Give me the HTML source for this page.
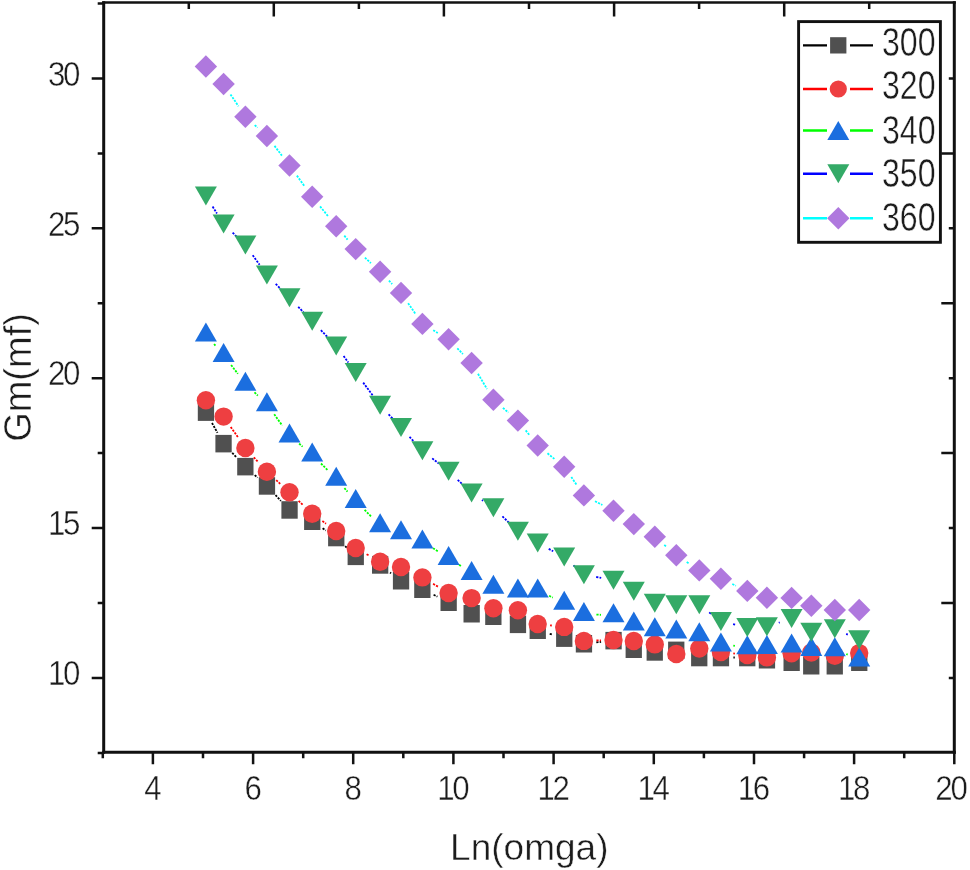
<!DOCTYPE html>
<html><head><meta charset="utf-8"><style>
html,body{margin:0;padding:0;background:#fff;}
svg{display:block;font-family:"Liberation Sans",sans-serif;filter:blur(0.45px);}
text{stroke:#fff;stroke-width:0.45px;}
</style></head><body>
<svg width="970" height="870" viewBox="0 0 970 870">
<rect width="970" height="870" fill="#fff"/>
<path d="M212 423L217.5 432.8M232.2 452.8L236.8 457.6M254.7 475.1L257.6 477.6M275.5 495.1L280.9 500.9M322.6 528.3L325.8 530.5M345.2 546.2L346.7 547.7M390.1 572.5L391 573.3M433.6 594.8L437.4 596.6M549.7 633.8L552.2 634.5M596.3 642.4L601.1 641.9M733.4 657.5L734.8 657.5" stroke="#000000" stroke-width="1.8" stroke-dasharray="2.2 1.2" fill="none"/><rect x="197.8" y="403.4" width="16.3" height="17.5" fill="#505050"/><rect x="215.4" y="434.9" width="16.3" height="17.5" fill="#505050"/><rect x="237.2" y="457.9" width="16.3" height="17.5" fill="#505050"/><rect x="258.8" y="477.2" width="16.3" height="17.5" fill="#505050"/><rect x="281.4" y="501.2" width="16.3" height="17.5" fill="#505050"/><rect x="304.1" y="512.5" width="16.3" height="17.5" fill="#505050"/><rect x="328.1" y="528.8" width="16.3" height="17.5" fill="#505050"/><rect x="347.6" y="547.6" width="16.3" height="17.5" fill="#505050"/><rect x="372" y="556.2" width="16.3" height="17.5" fill="#505050"/><rect x="392.9" y="572" width="16.3" height="17.5" fill="#505050"/><rect x="414.2" y="580.5" width="16.3" height="17.5" fill="#505050"/><rect x="440.5" y="593.5" width="16.3" height="17.5" fill="#505050"/><rect x="463.5" y="605" width="16.3" height="17.5" fill="#505050"/><rect x="485.2" y="607.5" width="16.3" height="17.5" fill="#505050"/><rect x="509.8" y="615.6" width="16.3" height="17.5" fill="#505050"/><rect x="529.6" y="621.5" width="16.3" height="17.5" fill="#505050"/><rect x="556.1" y="629.4" width="16.3" height="17.5" fill="#505050"/><rect x="575.8" y="635" width="16.3" height="17.5" fill="#505050"/><rect x="605.4" y="631.9" width="16.3" height="17.5" fill="#505050"/><rect x="625.6" y="640.5" width="16.3" height="17.5" fill="#505050"/><rect x="646.6" y="643.2" width="16.3" height="17.5" fill="#505050"/><rect x="668.1" y="641.6" width="16.3" height="17.5" fill="#505050"/><rect x="691.1" y="648.8" width="16.3" height="17.5" fill="#505050"/><rect x="712.8" y="648.8" width="16.3" height="17.5" fill="#505050"/><rect x="739.1" y="648.8" width="16.3" height="17.5" fill="#505050"/><rect x="758.8" y="651" width="16.3" height="17.5" fill="#505050"/><rect x="783.5" y="653.5" width="16.3" height="17.5" fill="#505050"/><rect x="803.1" y="657" width="16.3" height="17.5" fill="#505050"/><rect x="826.6" y="657" width="16.3" height="17.5" fill="#505050"/><rect x="851.1" y="653.5" width="16.3" height="17.5" fill="#505050"/><path d="M230.7 426.9L238.3 437.7M253.8 457.3L258.5 462.4M276.2 480.1L280.2 483.8M298.6 500.8L303.1 505.2M322.4 521.1L326 523.7M366.6 554.2L369.2 555.6M433.1 583.8L437.9 586.6M550.1 625.4L551.8 625.5M596.4 640.5L601 640.4M733.3 653.4L734.9 653.6" stroke="#FF0000" stroke-width="1.8" stroke-dasharray="2.2 1.2" fill="none"/><circle cx="205.9" cy="400.2" r="9.2" fill="#EE3F41"/><circle cx="223.6" cy="416.6" r="9.2" fill="#EE3F41"/><circle cx="245.4" cy="448" r="9.2" fill="#EE3F41"/><circle cx="266.9" cy="471.7" r="9.2" fill="#EE3F41"/><circle cx="289.5" cy="492.2" r="9.2" fill="#EE3F41"/><circle cx="312.2" cy="513.8" r="9.2" fill="#EE3F41"/><circle cx="336.2" cy="531" r="9.2" fill="#EE3F41"/><circle cx="355.7" cy="548" r="9.2" fill="#EE3F41"/><circle cx="380.1" cy="561.8" r="9.2" fill="#EE3F41"/><circle cx="401" cy="567" r="9.2" fill="#EE3F41"/><circle cx="422.4" cy="577.4" r="9.2" fill="#EE3F41"/><circle cx="448.6" cy="593" r="9.2" fill="#EE3F41"/><circle cx="471.6" cy="598.1" r="9.2" fill="#EE3F41"/><circle cx="493.4" cy="608.2" r="9.2" fill="#EE3F41"/><circle cx="517.9" cy="610.2" r="9.2" fill="#EE3F41"/><circle cx="537.7" cy="624" r="9.2" fill="#EE3F41"/><circle cx="564.2" cy="626.9" r="9.2" fill="#EE3F41"/><circle cx="583.9" cy="640.9" r="9.2" fill="#EE3F41"/><circle cx="613.5" cy="640" r="9.2" fill="#EE3F41"/><circle cx="633.8" cy="641" r="9.2" fill="#EE3F41"/><circle cx="654.8" cy="644.4" r="9.2" fill="#EE3F41"/><circle cx="676.3" cy="654" r="9.2" fill="#EE3F41"/><circle cx="699.3" cy="648.5" r="9.2" fill="#EE3F41"/><circle cx="720.9" cy="652" r="9.2" fill="#EE3F41"/><circle cx="747.3" cy="655" r="9.2" fill="#EE3F41"/><circle cx="766.9" cy="657.4" r="9.2" fill="#EE3F41"/><circle cx="791.6" cy="653.2" r="9.2" fill="#EE3F41"/><circle cx="811.3" cy="652.5" r="9.2" fill="#EE3F41"/><circle cx="834.8" cy="655.7" r="9.2" fill="#EE3F41"/><circle cx="859.2" cy="653.1" r="9.2" fill="#EE3F41"/><path d="M214.1 344L215.4 345.6M231.1 365L237.9 373.8M254.5 392.4L257.8 395.6M274.2 414.3L282.2 425.5M299.1 443.6L302.6 446.6M321 463.5L327.4 469.8M344.4 488.1L347.5 491.7M364.6 509.9L371.2 516.5M433 548.2L438 551.3M459.1 564.8L461.1 566.2M549.1 595.8L552.8 597.6M596.4 614.6L601 614.8M733.3 645.7L734.9 645.9M846.3 654L847.7 654.6" stroke="#00FF00" stroke-width="1.8" stroke-dasharray="2.2 1.2" fill="none"/><path d="M205.9 322.6L216.9 341.6L194.9 341.6Z" fill="#1B6EDF"/><path d="M223.6 343L234.6 362L212.6 362Z" fill="#1B6EDF"/><path d="M245.4 371.8L256.4 390.8L234.4 390.8Z" fill="#1B6EDF"/><path d="M266.9 392.2L277.9 411.2L255.9 411.2Z" fill="#1B6EDF"/><path d="M289.5 423.6L300.5 442.6L278.5 442.6Z" fill="#1B6EDF"/><path d="M312.2 442.6L323.2 461.6L301.2 461.6Z" fill="#1B6EDF"/><path d="M336.2 466.7L347.2 485.7L325.2 485.7Z" fill="#1B6EDF"/><path d="M355.7 489.1L366.7 508.1L344.7 508.1Z" fill="#1B6EDF"/><path d="M380.1 513.3L391.1 532.3L369.1 532.3Z" fill="#1B6EDF"/><path d="M401 520.2L412 539.2L390 539.2Z" fill="#1B6EDF"/><path d="M422.4 529.5L433.4 548.5L411.4 548.5Z" fill="#1B6EDF"/><path d="M448.6 546L459.6 565L437.6 565Z" fill="#1B6EDF"/><path d="M471.6 561L482.6 580L460.6 580Z" fill="#1B6EDF"/><path d="M493.4 574.8L504.4 593.8L482.4 593.8Z" fill="#1B6EDF"/><path d="M517.9 578.6L528.9 597.6L506.9 597.6Z" fill="#1B6EDF"/><path d="M537.7 578.6L548.7 597.6L526.7 597.6Z" fill="#1B6EDF"/><path d="M564.2 590.8L575.2 609.8L553.2 609.8Z" fill="#1B6EDF"/><path d="M583.9 602.1L594.9 621.1L572.9 621.1Z" fill="#1B6EDF"/><path d="M613.5 603.3L624.5 622.3L602.5 622.3Z" fill="#1B6EDF"/><path d="M633.8 611.5L644.8 630.5L622.8 630.5Z" fill="#1B6EDF"/><path d="M654.8 617.2L665.8 636.2L643.8 636.2Z" fill="#1B6EDF"/><path d="M676.3 619.6L687.3 638.6L665.3 638.6Z" fill="#1B6EDF"/><path d="M699.3 622.2L710.3 641.2L688.3 641.2Z" fill="#1B6EDF"/><path d="M720.9 632.4L731.9 651.4L709.9 651.4Z" fill="#1B6EDF"/><path d="M747.3 635.2L758.3 654.2L736.3 654.2Z" fill="#1B6EDF"/><path d="M766.9 635L777.9 654L755.9 654Z" fill="#1B6EDF"/><path d="M791.6 633.5L802.6 652.5L780.6 652.5Z" fill="#1B6EDF"/><path d="M811.3 637.1L822.3 656.1L800.3 656.1Z" fill="#1B6EDF"/><path d="M834.8 637.2L845.8 656.2L823.8 656.2Z" fill="#1B6EDF"/><path d="M859.2 647.4L870.2 666.4L848.2 666.4Z" fill="#1B6EDF"/><path d="M212.6 206.6L216.9 213.4M232.6 232.7L236.4 236.3M252.7 255.2L259.6 264.8M275.7 283.9L280.7 288.9M298.2 306.8L303.5 312.3M320.9 330.2L327.5 337M343.6 356L348.3 362.5M363.2 382.6L372.6 395.3M388.6 414.4L392.5 418.5M409.5 436.8L413.9 441.5M432.2 458.4L438.8 463.5M457.7 479.8L462.5 484.3M481.9 500L483.1 500.7M502.4 516.4L508.9 522.6M548.7 548.9L553.2 551.2M573.5 565.4L574.6 566.4M596.2 577L601.2 577.9M709.2 612.4L711 613.8M733.1 624.2L735.1 624.7M778.8 622.8L779.7 622.4M846.2 633.9L847.8 634.6" stroke="#0000FF" stroke-width="1.8" stroke-dasharray="2.2 1.2" fill="none"/><path d="M194.9 186.5L216.9 186.5L205.9 205.5Z" fill="#34AA67"/><path d="M212.6 214.5L234.6 214.5L223.6 233.5Z" fill="#34AA67"/><path d="M234.4 235.5L256.4 235.5L245.4 254.5Z" fill="#34AA67"/><path d="M255.9 265.5L277.9 265.5L266.9 284.5Z" fill="#34AA67"/><path d="M278.5 288.3L300.5 288.3L289.5 307.3Z" fill="#34AA67"/><path d="M301.2 311.8L323.2 311.8L312.2 330.8Z" fill="#34AA67"/><path d="M325.2 336.4L347.2 336.4L336.2 355.4Z" fill="#34AA67"/><path d="M344.7 363.1L366.7 363.1L355.7 382.1Z" fill="#34AA67"/><path d="M369.1 395.8L391.1 395.8L380.1 414.8Z" fill="#34AA67"/><path d="M390 418.1L412 418.1L401 437.1Z" fill="#34AA67"/><path d="M411.4 441.2L433.4 441.2L422.4 460.2Z" fill="#34AA67"/><path d="M437.6 461.7L459.6 461.7L448.6 480.7Z" fill="#34AA67"/><path d="M460.6 483.4L482.6 483.4L471.6 502.4Z" fill="#34AA67"/><path d="M482.4 498.3L504.4 498.3L493.4 517.3Z" fill="#34AA67"/><path d="M506.9 521.7L528.9 521.7L517.9 540.7Z" fill="#34AA67"/><path d="M526.7 533.5L548.7 533.5L537.7 552.5Z" fill="#34AA67"/><path d="M553.2 547.6L575.2 547.6L564.2 566.6Z" fill="#34AA67"/><path d="M572.9 565.2L594.9 565.2L583.9 584.2Z" fill="#34AA67"/><path d="M602.5 570.7L624.5 570.7L613.5 589.7Z" fill="#34AA67"/><path d="M622.8 581.7L644.8 581.7L633.8 600.7Z" fill="#34AA67"/><path d="M643.8 593.7L665.8 593.7L654.8 612.7Z" fill="#34AA67"/><path d="M665.3 595.3L687.3 595.3L676.3 614.3Z" fill="#34AA67"/><path d="M688.3 595.3L710.3 595.3L699.3 614.3Z" fill="#34AA67"/><path d="M709.9 611.9L731.9 611.9L720.9 630.9Z" fill="#34AA67"/><path d="M736.3 618L758.3 618L747.3 637Z" fill="#34AA67"/><path d="M755.9 617.2L777.9 617.2L766.9 636.2Z" fill="#34AA67"/><path d="M780.6 609L802.6 609L791.6 628Z" fill="#34AA67"/><path d="M800.3 622.7L822.3 622.7L811.3 641.7Z" fill="#34AA67"/><path d="M823.8 619.3L845.8 619.3L834.8 638.3Z" fill="#34AA67"/><path d="M848.2 630.2L870.2 630.2L859.2 649.2Z" fill="#34AA67"/><path d="M230.5 94.4L238.5 106.3M254.7 125.1L257.6 127.6M274.5 145.9L281.9 155.6M296.9 175.6L304.8 186.6M320.1 206.4L328.3 216.5M344.3 235.7L347.6 239.6M364.9 257.6L370.9 263.2M388.9 280.6L392.2 284M408.1 303.2L415.3 313.6M433.2 330.2L437.8 333M457.3 348.3L462.9 354M478 373.8L487 389M502.9 407.9L508.4 412.5M525.7 430.4L529.9 435.7M547.5 453.3L554.4 458.9M571.3 477L576.8 485.1M595 501.2L602.4 505M664.3 544.9L666.8 547.1M686.7 562.1L688.9 563.5M732.3 584L735.9 585.7" stroke="#00FFFF" stroke-width="1.8" stroke-dasharray="2.2 1.2" fill="none"/><path d="M205.9 55.3L217.1 66.5L205.9 77.7L194.7 66.5Z" fill="#AF78DE"/><path d="M223.6 72.8L234.8 84L223.6 95.2L212.4 84Z" fill="#AF78DE"/><path d="M245.4 105.5L256.6 116.7L245.4 127.9L234.2 116.7Z" fill="#AF78DE"/><path d="M266.9 124.8L278.1 136L266.9 147.2L255.7 136Z" fill="#AF78DE"/><path d="M289.5 154.3L300.7 165.5L289.5 176.7L278.3 165.5Z" fill="#AF78DE"/><path d="M312.2 185.5L323.4 196.7L312.2 207.9L301 196.7Z" fill="#AF78DE"/><path d="M336.2 215L347.4 226.2L336.2 237.4L325 226.2Z" fill="#AF78DE"/><path d="M355.7 237.9L366.9 249.1L355.7 260.3L344.5 249.1Z" fill="#AF78DE"/><path d="M380.1 260.5L391.3 271.7L380.1 282.9L368.9 271.7Z" fill="#AF78DE"/><path d="M401 281.7L412.2 292.9L401 304.1L389.8 292.9Z" fill="#AF78DE"/><path d="M422.4 312.7L433.6 323.9L422.4 335.1L411.2 323.9Z" fill="#AF78DE"/><path d="M448.6 328.1L459.8 339.3L448.6 350.5L437.4 339.3Z" fill="#AF78DE"/><path d="M471.6 351.8L482.8 363L471.6 374.2L460.4 363Z" fill="#AF78DE"/><path d="M493.4 388.6L504.6 399.8L493.4 411L482.2 399.8Z" fill="#AF78DE"/><path d="M517.9 409.4L529.1 420.6L517.9 431.8L506.7 420.6Z" fill="#AF78DE"/><path d="M537.7 434.3L548.9 445.5L537.7 456.7L526.5 445.5Z" fill="#AF78DE"/><path d="M564.2 455.5L575.4 466.7L564.2 477.9L553 466.7Z" fill="#AF78DE"/><path d="M583.9 484.2L595.1 495.4L583.9 506.6L572.7 495.4Z" fill="#AF78DE"/><path d="M613.5 499.6L624.7 510.8L613.5 522L602.3 510.8Z" fill="#AF78DE"/><path d="M633.8 512.9L645 524.1L633.8 535.3L622.6 524.1Z" fill="#AF78DE"/><path d="M654.8 525.6L666 536.8L654.8 548L643.6 536.8Z" fill="#AF78DE"/><path d="M676.3 544L687.5 555.2L676.3 566.4L665.1 555.2Z" fill="#AF78DE"/><path d="M699.3 559.2L710.5 570.4L699.3 581.6L688.1 570.4Z" fill="#AF78DE"/><path d="M720.9 567.6L732.1 578.8L720.9 590L709.7 578.8Z" fill="#AF78DE"/><path d="M747.3 579.7L758.5 590.9L747.3 602.1L736.1 590.9Z" fill="#AF78DE"/><path d="M766.9 586.6L778.1 597.8L766.9 609L755.7 597.8Z" fill="#AF78DE"/><path d="M791.6 586.7L802.8 597.9L791.6 609.1L780.4 597.9Z" fill="#AF78DE"/><path d="M811.3 594.5L822.5 605.7L811.3 616.9L800.1 605.7Z" fill="#AF78DE"/><path d="M834.8 598.8L846 610L834.8 621.2L823.6 610Z" fill="#AF78DE"/><path d="M859.2 598.8L870.4 610L859.2 621.2L848 610Z" fill="#AF78DE"/>
<path d="M103.7 1.2V753.8M954.3 1.2V753.8" fill="none" stroke="#111" stroke-width="3.0"/><path d="M102.2 2.4H955.8" fill="none" stroke="#111" stroke-width="2.5"/><path d="M102.2 752.3H955.8" fill="none" stroke="#111" stroke-width="2.9"/><path d="M102.8 752.3v6M152.9 752.3v12M203 752.3v6M253.1 752.3v12M303.2 752.3v6M353.2 752.3v12M403.3 752.3v6M453.4 752.3v12M503.5 752.3v6M553.6 752.3v12M603.7 752.3v6M653.8 752.3v12M703.9 752.3v6M754 752.3v12M804.1 752.3v6M854.1 752.3v12M904.2 752.3v6M954.3 752.3v12M103.7 753h-6M103.7 678h-12M103.7 603h-6M103.7 528.1h-12M103.7 453.1h-6M103.7 378.2h-12M103.7 303.2h-6M103.7 228.3h-12M103.7 153.4h-6M103.7 78.4h-12M103.7 3.5h-6M188.8 2.4v6.5M273.8 2.4v14M358.9 2.4v6.5M443.9 2.4v14M529 2.4v6.5M614.1 2.4v14M699.1 2.4v6.5M784.2 2.4v14M869.2 2.4v6.5M954.3 678h-5.5M954.3 603h-13M954.3 528.1h-5.5M954.3 453.1h-13M954.3 378.2h-5.5M954.3 303.2h-13M954.3 228.3h-5.5M954.3 153.4h-13M954.3 78.4h-5.5" stroke="#111" stroke-width="2.5" fill="none"/>
<g font-size="35.5" fill="#1c1c1c"><text transform="translate(152.9 800) scale(0.88 1)" text-anchor="middle">4</text><text transform="translate(253.1 800) scale(0.88 1)" text-anchor="middle">6</text><text transform="translate(353.2 800) scale(0.88 1)" text-anchor="middle">8</text><text transform="translate(452.3 800) scale(0.88 1)" text-anchor="middle" letter-spacing="-2.6">10</text><text transform="translate(552.5 800) scale(0.88 1)" text-anchor="middle" letter-spacing="-2.6">12</text><text transform="translate(652.6 800) scale(0.88 1)" text-anchor="middle" letter-spacing="-2.6">14</text><text transform="translate(752.8 800) scale(0.88 1)" text-anchor="middle" letter-spacing="-2.6">16</text><text transform="translate(853 800) scale(0.88 1)" text-anchor="middle" letter-spacing="-2.6">18</text><text transform="translate(950.4 800) scale(0.88 1)" text-anchor="middle" letter-spacing="-2.6">20</text><text transform="translate(78.2 685.2) scale(0.88 1)" text-anchor="end" letter-spacing="-2.6">10</text><text transform="translate(78.2 535.3) scale(0.88 1)" text-anchor="end" letter-spacing="-2.6">15</text><text transform="translate(78.2 385.4) scale(0.88 1)" text-anchor="end" letter-spacing="-2.6">20</text><text transform="translate(78.2 235.5) scale(0.88 1)" text-anchor="end" letter-spacing="-2.6">25</text><text transform="translate(78.2 85.6) scale(0.88 1)" text-anchor="end" letter-spacing="-2.6">30</text></g>
<text x="529.3" y="860" text-anchor="middle" font-size="37" fill="#1c1c1c">Ln(omga)</text><text transform="translate(31.3 377.5) rotate(-90)" text-anchor="middle" font-size="38" fill="#1c1c1c">Gm(mf)</text>
<rect x="798.6" y="21.6" width="141.8" height="220.7" fill="#fff" stroke="#111" stroke-width="2.9"/><path d="M803 45.4H827M850 45.4H873" stroke="#000000" stroke-width="2.4"/><rect x="830.1" y="37.2" width="16.3" height="16.3" fill="#505050"/><text x="882" y="55.5" font-size="40" fill="#1c1c1c" textLength="53.5" lengthAdjust="spacingAndGlyphs">300</text><path d="M803 89H827M850 89H873" stroke="#FF0000" stroke-width="2.4"/><circle cx="838.3" cy="89" r="8.6" fill="#EE3F41"/><text x="882" y="99.1" font-size="40" fill="#1c1c1c" textLength="53.5" lengthAdjust="spacingAndGlyphs">320</text><path d="M803 130.5H827M850 130.5H873" stroke="#00FF00" stroke-width="2.4"/><path d="M838.3 121L849.3 140L827.3 140Z" fill="#1B6EDF"/><text x="882" y="143.5" font-size="40" fill="#1c1c1c" textLength="53.5" lengthAdjust="spacingAndGlyphs">340</text><path d="M803 173.8H827M850 173.8H873" stroke="#0000FF" stroke-width="2.4"/><path d="M827.3 164.3L849.3 164.3L838.3 183.3Z" fill="#34AA67"/><text x="882" y="187.1" font-size="40" fill="#1c1c1c" textLength="53.5" lengthAdjust="spacingAndGlyphs">350</text><path d="M803 218.2H827M850 218.2H873" stroke="#00FFFF" stroke-width="2.4"/><path d="M838.3 207L849.5 218.2L838.3 229.4L827.1 218.2Z" fill="#AF78DE"/><text x="882" y="230.6" font-size="40" fill="#1c1c1c" textLength="53.5" lengthAdjust="spacingAndGlyphs">360</text>
</svg>
</body></html>
